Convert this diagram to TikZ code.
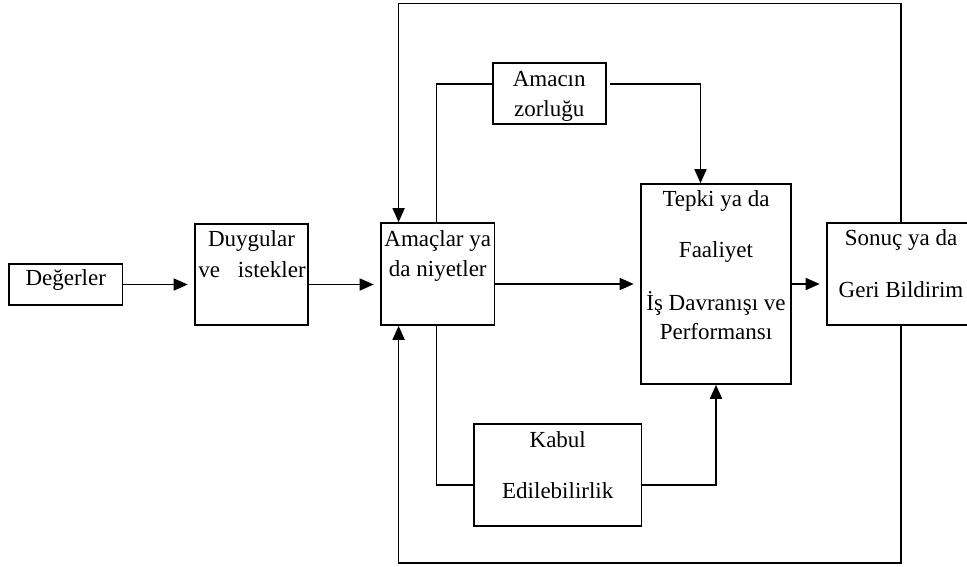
\documentclass[tikz,border=0pt]{standalone}
\usepackage{fontspec}
\setmainfont{Liberation Serif}
\usetikzlibrary{arrows.meta}
\begin{document}
\begin{tikzpicture}[x=1pt,y=-1pt,
  line width=1.6pt,
  box/.style={draw,rectangle,inner sep=0pt,line width=1.6pt},
  txt/.style={anchor=base,inner sep=0pt,font=\fontsize{23}{27}\selectfont},
  arr/.style={-{Triangle[length=14pt,width=12pt]}},
  harr/.style={arr,shorten >=6.5pt}]
\useasboundingbox (0,0) rectangle (967,566);
% boxes
\node[box,minimum width=113.5pt,minimum height=41pt] (deg) at (65.75,284.5) {};
\node[box,minimum width=113pt,minimum height=101pt] (duy) at (251.5,274.5) {};
\node[box,minimum width=113.5pt,minimum height=102pt] (ama) at (437.75,274) {};
\node[box,minimum width=150pt,minimum height=200pt] (tep) at (716,284) {};
\node[box,minimum width=148pt,minimum height=102pt] (son) at (901,274) {};
\node[box,minimum width=113pt,minimum height=61pt] (zor) at (549.2,93.5) {};
\node[box,minimum width=167.5pt,minimum height=102pt] (kab) at (557.75,475) {};
% texts
\node[txt] (t1) at (65.75,285.7) {Değerler};
\node[txt] (t2) at (251.5,246.7) {Duygular};
\node[txt] (t3) at (252,277) {ve\hspace{18pt}istekler};
\node[txt] (t4) at (437.75,246.7) {Amaçlar ya};
\node[txt] (t5) at (437.75,276.7) {da niyetler};
\node[txt] (t6) at (716,206) {Tepki ya da};
\node[txt] (t7) at (716,257) {Faaliyet};
\node[txt] (t8) at (716,310.7) {İş Davranışı ve};
\node[txt] (t9) at (716,339) {Performansı};
\node[txt] (t10) at (901,245.7) {Sonuç ya da};
\node[txt] (t11) at (901,297) {Geri Bildirim};
\node[txt] (t12) at (549.2,86.7) {Amacın};
\node[txt] (t13) at (549.2,116.5) {zorluğu};
\node[txt] (t14) at (557.75,447) {Kabul};
\node[txt] (t15) at (557.75,498) {Edilebilirlik};
% helper coordinates
\coordinate (L) at (398.6,3.5);
\coordinate (B) at (398.6,563);
\coordinate (za) at (436.6,84);
\coordinate (zt) at (700.5,84);
\coordinate (kb) at (436.6,485);
% main chain
\draw[harr] (deg.east) -- (duy.west |- deg.east);
\draw[harr] (duy.east |- deg.east) -- (ama.west |- deg.east);
\draw[harr] (ama.east |- tep.west) -- (tep.west);
\draw[harr] (tep.east) -- (son.west |- tep.east);
% goal difficulty
\draw (ama.north -| za) -- (za) -- (zor.west |- za);
\draw[arr,shorten <=3pt] (zor.east |- za) -- (zt) -- (tep.north -| zt);
% acceptance
\draw (ama.south -| kb) -- (kb) -- (kab.west |- kb);
\draw[arr] (kab.east |- kb) -| (tep.south);
% feedback loop
\draw[arr] (son.north) -- (son.north |- L) -- (L) -- (ama.north -| L);
\draw[arr] (son.south) -- (son.south |- B) -- (B) -- (ama.south -| B);
\end{tikzpicture}
\end{document}
